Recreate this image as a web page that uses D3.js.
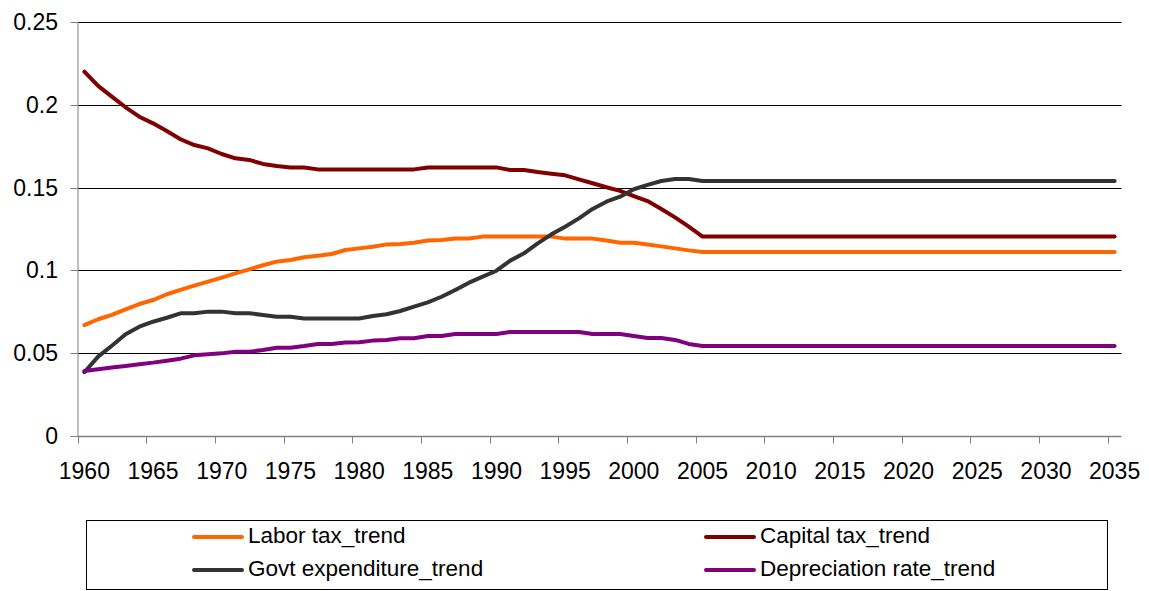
<!DOCTYPE html>
<html>
<head>
<meta charset="utf-8">
<script src="https://cdn.jsdelivr.net/npm/d3@7"></script>
<style>
  html, body { margin: 0; padding: 0; background: #fff; }
  svg { display: block; font-family: "Liberation Sans", Arial, sans-serif; }
</style>
</head>
<body>
<svg id="chart" width="1149" height="591"></svg>
<script>
const years = d3.range(1960, 2036);
const xTickYears = [1960,1965,1970,1975,1980,1985,1990,1995,2000,2005,2010,2015,2020,2025,2030,2035];
const yTickValues = [0, 0.05, 0.1, 0.15, 0.2, 0.25];
const yTickLabels = ["0", "0.05", "0.1", "0.15", "0.2", "0.25"];

const laborTax = [
  0.0670,0.0705,0.0731,0.0765,0.0797,0.0821,0.0856,0.0882,0.0908,0.0932,
  0.0956,0.0982,0.1006,0.1031,0.1053,0.1063,0.1079,0.1089,0.1099,0.1123,
  0.1133,0.1143,0.1157,0.1159,0.1167,0.1180,0.1184,0.1193,0.1193,0.1204,
  0.1204,0.1204,0.1204,0.1204,0.1204,0.1192,0.1192,0.1192,0.1180,0.1167,
  0.1167,0.1157,0.1145,0.1133,0.1121,0.1111,0.1111,0.1111,0.1111,0.1111,
  0.1111,0.1111,0.1111,0.1111,0.1111,0.1111,0.1111,0.1111,0.1111,0.1111,
  0.1111,0.1111,0.1111,0.1111,0.1111,0.1111,0.1111,0.1111,0.1111,0.1111,
  0.1111,0.1111,0.1111,0.1111,0.1111,0.1111
];
const capitalTax = [
  0.2200,0.2114,0.2049,0.1985,0.1928,0.1888,0.1842,0.1792,0.1757,0.1737,
  0.1703,0.1677,0.1667,0.1643,0.1630,0.1622,0.1622,0.1610,0.1610,0.1610,
  0.1610,0.1610,0.1610,0.1610,0.1610,0.1622,0.1622,0.1622,0.1622,0.1622,
  0.1622,0.1606,0.1606,0.1594,0.1584,0.1574,0.1550,0.1526,0.1502,0.1480,
  0.1449,0.1419,0.1371,0.1320,0.1264,0.1204,0.1204,0.1204,0.1204,0.1204,
  0.1204,0.1204,0.1204,0.1204,0.1204,0.1204,0.1204,0.1204,0.1204,0.1204,
  0.1204,0.1204,0.1204,0.1204,0.1204,0.1204,0.1204,0.1204,0.1204,0.1204,
  0.1204,0.1204,0.1204,0.1204,0.1204,0.1204
];
const govtExpenditure = [
  0.0385,0.0479,0.0545,0.0614,0.0660,0.0690,0.0714,0.0741,0.0741,0.0751,
  0.0751,0.0741,0.0741,0.0731,0.0720,0.0720,0.0710,0.0710,0.0710,0.0710,
  0.0710,0.0725,0.0735,0.0755,0.0781,0.0807,0.0841,0.0882,0.0926,0.0962,
  0.0998,0.1059,0.1103,0.1163,0.1218,0.1264,0.1314,0.1371,0.1415,0.1445,
  0.1490,0.1516,0.1540,0.1552,0.1552,0.1540,0.1540,0.1540,0.1540,0.1540,
  0.1540,0.1540,0.1540,0.1540,0.1540,0.1540,0.1540,0.1540,0.1540,0.1540,
  0.1540,0.1540,0.1540,0.1540,0.1540,0.1540,0.1540,0.1540,0.1540,0.1540,
  0.1540,0.1540,0.1540,0.1540,0.1540,0.1540
];
const depreciationRate = [
  0.0393,0.0403,0.0413,0.0423,0.0433,0.0443,0.0455,0.0467,0.0487,0.0493,
  0.0499,0.0509,0.0509,0.0519,0.0533,0.0533,0.0543,0.0556,0.0556,0.0564,
  0.0566,0.0576,0.0580,0.0590,0.0590,0.0604,0.0604,0.0616,0.0616,0.0616,
  0.0616,0.0628,0.0628,0.0628,0.0628,0.0628,0.0628,0.0616,0.0616,0.0616,
  0.0604,0.0592,0.0592,0.0580,0.0556,0.0543,0.0543,0.0543,0.0543,0.0543,
  0.0543,0.0543,0.0543,0.0543,0.0543,0.0543,0.0543,0.0543,0.0543,0.0543,
  0.0543,0.0543,0.0543,0.0543,0.0543,0.0543,0.0543,0.0543,0.0543,0.0543,
  0.0543,0.0543,0.0543,0.0543,0.0543,0.0543
];

const seriesNames = ["Labor tax_trend", "Capital tax_trend", "Govt expenditure_trend", "Depreciation rate_trend"];
const seriesColors = ["#FF6600", "#800000", "#333333", "#800080"];
const seriesValues = [laborTax, capitalTax, govtExpenditure, depreciationRate];

const svg = d3.select("#chart");
const plot = { left: 77.5, right: 1121.5, top: 22, bottom: 436 };

const x = d3.scaleBand().domain(years).range([plot.left, plot.right]).paddingInner(0).paddingOuter(0);
const y = d3.scaleLinear().domain([0, 0.25]).range([plot.bottom, plot.top]);
const cx = yr => x(yr) + x.bandwidth() / 2;
const crisp = v => Math.round(v) + 0.5;

// gridlines
svg.append("g").selectAll("line")
  .data(yTickValues.filter(v => v > 0))
  .join("line")
  .attr("x1", plot.left).attr("x2", plot.right)
  .attr("y1", d => crisp(y(d))).attr("y2", d => crisp(y(d)))
  .attr("stroke", "#000").attr("stroke-width", 1);

// y axis
svg.append("line")
  .attr("x1", crisp(plot.left) - 0.5).attr("x2", crisp(plot.left) - 0.5)
  .attr("y1", y(0.25)).attr("y2", crisp(y(0)))
  .attr("stroke", "#808080").attr("stroke-width", 1);
svg.append("g").selectAll("line")
  .data(yTickValues)
  .join("line")
  .attr("x1", plot.left - 7).attr("x2", plot.left)
  .attr("y1", d => crisp(y(d))).attr("y2", d => crisp(y(d)))
  .attr("stroke", "#808080");
svg.append("g").selectAll("text")
  .data(yTickValues)
  .join("text")
  .attr("x", 58).attr("y", d => y(d))
  .attr("dy", "0.35em")
  .attr("text-anchor", "end")
  .attr("font-size", 23)
  .attr("fill", "#000")
  .text((d, i) => yTickLabels[i]);

// x axis
svg.append("line")
  .attr("x1", plot.left).attr("x2", plot.right)
  .attr("y1", crisp(y(0))).attr("y2", crisp(y(0)))
  .attr("stroke", "#808080").attr("stroke-width", 1.5);
svg.append("g").selectAll("line")
  .data(xTickYears)
  .join("line")
  .attr("x1", d => crisp(x(d))).attr("x2", d => crisp(x(d)))
  .attr("y1", crisp(y(0))).attr("y2", crisp(y(0)) + 7)
  .attr("stroke", "#808080");
svg.append("g").selectAll("text")
  .data(xTickYears)
  .join("text")
  .attr("x", d => cx(d)).attr("y", 479)
  .attr("text-anchor", "middle")
  .attr("font-size", 23)
  .attr("fill", "#000")
  .text(d => String(d));

// lines
const lineGen = d3.line().x(d => cx(d[0])).y(d => y(d[1]));
svg.append("g").selectAll("path")
  .data(seriesValues)
  .join("path")
  .attr("d", vals => lineGen(years.map((yr, i) => [yr, vals[i]])))
  .attr("fill", "none")
  .attr("stroke", (d, i) => seriesColors[i])
  .attr("stroke-width", 4)
  .attr("stroke-linejoin", "round")
  .attr("stroke-linecap", "round");

// legend
svg.append("rect")
  .attr("x", 86.5).attr("y", 520.5).attr("width", 1021).attr("height", 69)
  .attr("fill", "#fff").attr("stroke", "#000").attr("stroke-width", 1);
const legendPos = [
  { lx: 194, ty: 543, ly: 537 },
  { lx: 706, ty: 543, ly: 537 },
  { lx: 194, ty: 576, ly: 570 },
  { lx: 706, ty: 576, ly: 570 }
];
const legend = svg.append("g").selectAll("g")
  .data(seriesNames)
  .join("g");
legend.append("line")
  .attr("x1", (d, i) => legendPos[i].lx).attr("x2", (d, i) => legendPos[i].lx + 48)
  .attr("y1", (d, i) => legendPos[i].ly).attr("y2", (d, i) => legendPos[i].ly)
  .attr("stroke", (d, i) => seriesColors[i]).attr("stroke-width", 4)
  .attr("stroke-linecap", "round");
legend.append("text")
  .attr("x", (d, i) => legendPos[i].lx + 54).attr("y", (d, i) => legendPos[i].ty)
  .attr("font-size", 22.5).attr("fill", "#000")
  .text(d => d);
</script>
</body>
</html>
